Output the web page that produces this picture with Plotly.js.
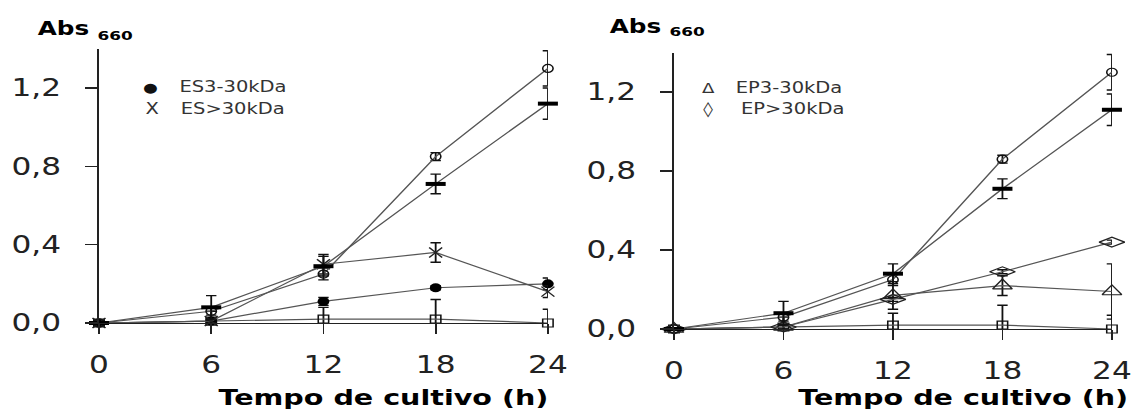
<!DOCTYPE html>
<html>
<head>
<meta charset="utf-8">
<script src="https://cdn.plot.ly/plotly-3.0.1.min.js"></script>
<style>
  html, body { margin: 0; padding: 0; background: #fff; overflow: hidden; }
  #wrap { width: 877px; height: 412px; transform: scaleX(1.29989); transform-origin: 0 0; }
  #chart { width: 877px; height: 412px; }
</style>
</head>
<body>
<div id="wrap"><div id="chart"></div></div>
<script>
// ---- data ----
const hours = [0, 6, 12, 18, 24];
const hourLabels = ["0", "6", "12", "18", "24"];
const absTicks = [0, 0.4, 0.8, 1.2];
const absTickLabels = ["0,0", "0,4", "0,8", "1,2"];

// left panel (ES)
const leftCircle = [0, 0.06, 0.25, 0.85, 1.30];
const leftCircleErr = [0, 0.02, 0.03, 0.02, 0.09];
const leftDash = [0, 0.08, 0.29, 0.71, 1.12];
const leftDashErr = [0, 0.06, 0.05, 0.05, 0.08];
const esOver30 = [0, 0.01, 0.30, 0.36, 0.16];
const esOver30Err = [0, 0.01, 0.05, 0.05, 0.03];
const es3to30 = [0, 0.01, 0.11, 0.18, 0.20];
const es3to30Err = [0, 0.01, 0.02, 0.01, 0.03];
const leftSquare = [0, 0.01, 0.02, 0.02, 0.0];
const leftSquareErr = [0, 0.05, 0.06, 0.10, 0.07];

// right panel (EP)
const rightCircle = [0, 0.06, 0.25, 0.86, 1.30];
const rightCircleErr = [0, 0.02, 0.03, 0.02, 0.09];
const rightDash = [0, 0.08, 0.28, 0.71, 1.11];
const rightDashErr = [0, 0.06, 0.05, 0.05, 0.08];
const epOver30 = [0, 0.01, 0.15, 0.29, 0.44];
const epOver30Err = [0, 0.01, 0.01, 0.01, 0.01];
const ep3to30 = [0, 0.01, 0.17, 0.22, 0.19];
const ep3to30Err = [0, 0.01, 0.07, 0.05, 0.14];
const rightSquare = [0, 0.01, 0.02, 0.02, 0.0];
const rightSquareErr = [0, 0.05, 0.06, 0.10, 0.07];

const legendLeft = ["ES3-30kDa", "ES>30kDa"];
const legendRight = ["EP3-30kDa", "EP>30kDa"];
const xTitle = "Tempo de cultivo (h)";

// ---- styling helpers ----
const LINE = { color: "#555", width: 1.2 };
function errBar(arr) {
  return { type: "data", array: arr, visible: true, color: "#111", thickness: 1.4, width: 4 };
}
function series(y, err, marker, xa, ya) {
  return {
    x: hours, y: y, type: "scatter", mode: "lines+markers",
    xaxis: xa, yaxis: ya, line: LINE, marker: marker,
    error_y: errBar(err), cliponaxis: false, showlegend: false, hoverinfo: "skip"
  };
}
const mCircle = { symbol: "circle-open", size: 8, color: "#111", line: { color: "#111", width: 1.2 } };
const mDash = { symbol: "line-ew", size: 11, color: "#000", line: { color: "#000", width: 4 } };
const mX = { symbol: "x-thin-open", size: 10, color: "#222", line: { color: "#222", width: 1.2 } };
const mDot = { symbol: "circle", size: 9, color: "#000", line: { color: "#000", width: 0 } };
const mSquare = { symbol: "square-open", size: 8, color: "#111", line: { color: "#111", width: 1.2 } };
const mTri = { symbol: "triangle-up-open", size: 13, color: "#222", line: { color: "#222", width: 1.2 } };
const mDiam = { symbol: "diamond-wide-open", size: 14, color: "#222", line: { color: "#222", width: 1.2 } };

const data = [
  series(leftSquare, leftSquareErr, mSquare, "x", "y"),
  series(es3to30, es3to30Err, mDot, "x", "y"),
  series(esOver30, esOver30Err, mX, "x", "y"),
  series(leftCircle, leftCircleErr, mCircle, "x", "y"),
  series(leftDash, leftDashErr, mDash, "x", "y"),
  series(rightSquare, rightSquareErr, mSquare, "x2", "y2"),
  series(ep3to30, ep3to30Err, mTri, "x2", "y2"),
  series(epOver30, epOver30Err, mDiam, "x2", "y2"),
  series(rightCircle, rightCircleErr, mCircle, "x2", "y2"),
  series(rightDash, rightDashErr, mDash, "x2", "y2")
];

const tickFont = { family: "DejaVu Sans", size: 24, color: "#222" };
function xAxis(domain, anchor) {
  return {
    domain: domain, anchor: anchor, range: [0, 24],
    tickvals: hours, ticktext: hourLabels, tickfont: tickFont,
    ticks: "outside", ticklen: 10, tickwidth: 1.4, tickcolor: "#222",
    showline: true, linecolor: "#222", linewidth: 1.4,
    showgrid: false, zeroline: false, ticklabelstandoff: 10, fixedrange: true
  };
}
function yAxis(domain, anchor) {
  return {
    domain: domain, anchor: anchor, range: [0, 1.4],
    tickvals: absTicks, ticktext: absTickLabels, tickfont: tickFont,
    ticks: "outside", ticklen: 9, tickwidth: 1.4, tickcolor: "#222",
    showline: true, linecolor: "#222", linewidth: 1.4,
    showgrid: false, zeroline: false, ticklabelstandoff: 14, fixedrange: true
  };
}

const W = 877, H = 412;
function px(x) { return x / W; }
function py(y) { return 1 - y / H; }

function ann(text, x, y, xanchor, font) {
  return { text: text, x: x, y: y, xref: "paper", yref: "paper",
           xanchor: xanchor, yanchor: "middle", showarrow: false, font: font };
}
const legFont = { family: "DejaVu Sans", size: 15, color: "#333" };
const symFont = { family: "DejaVu Sans", size: 13, color: "#111" };
const titleFont = { family: "DejaVu Sans", size: 22, color: "#000", weight: "bold" };
const absFont = { family: "DejaVu Sans", size: 19, color: "#000", weight: "bold" };
const subFont = { family: "DejaVu Sans", size: 13, color: "#000", weight: "bold" };

const annotations = [
  ann("<b>Abs</b>", px(26.9), py(28), "left", absFont),
  ann("<b>660</b>", px(73.1), py(36), "left", subFont),
  ann("<b>Abs</b>", px(466.9), py(26), "left", absFont),
  ann("<b>660</b>", px(513.1), py(32), "left", subFont),
  ann("●", px(115.4), py(87), "center", symFont),
  ann(legendLeft[0], px(136.2), py(87), "left", legFont),
  ann("X", px(116.9), py(109), "center", { family: "DejaVu Sans", size: 15, color: "#333" }),
  ann(legendLeft[1], px(136.9), py(109), "left", legFont),
  ann("Δ", px(545.4), py(88), "center", { family: "DejaVu Sans", size: 14, color: "#333" }),
  ann(legendRight[0], px(563.8), py(88), "left", legFont),
  ann("◊", px(545.4), py(109), "center", { family: "DejaVu Sans", size: 15, color: "#333" }),
  ann(legendRight[1], px(567.7), py(109), "left", legFont),
  ann("<b>" + xTitle + "</b>", px(295), py(397), "center", titleFont),
  ann("<b>" + xTitle + "</b>", px(741), py(397), "center", titleFont)
];

const layout = {
  width: W, height: H,
  margin: { l: 0, r: 0, t: 0, b: 0 },
  paper_bgcolor: "#fff", plot_bgcolor: "#fff",
  showlegend: false,
  xaxis: xAxis([76.15 / W, 421.5 / W], "y"),
  yaxis: yAxis([1 - 323 / H, 1 - 48.8 / H], "x"),
  xaxis2: xAxis([518.5 / W, 855.4 / W], "y2"),
  yaxis2: yAxis([1 - 329 / H, 1 - 52.5 / H], "x2"),
  annotations: annotations
};

Plotly.newPlot("chart", data, layout, { staticPlot: true, displayModeBar: false });
</script>
</body>
</html>
